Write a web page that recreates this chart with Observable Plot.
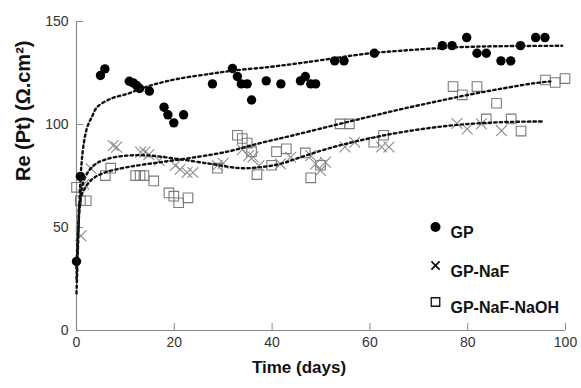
<!DOCTYPE html>
<html><head><meta charset="utf-8">
<script src="https://cdn.jsdelivr.net/npm/d3@7"></script>
<script src="https://cdn.jsdelivr.net/npm/@observablehq/plot@0.6"></script>
<style>
body{margin:0;background:#fff;}
#wrap{position:relative;width:581px;height:388px;}
</style></head><body><div id="wrap"></div>
<script>
// ---- data ----
const xTicks = [0, 20, 40, 60, 80, 100];
const yTicks = [0, 50, 100, 150];
const xLabel = "Time (days)";
const yLabel = "Re (Pt) (Ω.cm²)";
const seriesNames = ["GP", "GP-NaF", "GP-NaF-NaOH"];

const gpDays = [0, 0.8, 4.9, 5.8, 10.8, 11.6, 12.3, 12.9, 14.9, 17.9, 18.7, 19.9, 21.9, 27.8, 31.9, 32.9, 33.7, 34.9, 35.8, 38.8, 41.8, 45.8, 46.8, 47.9, 48.9, 52.8, 54.7, 60.9, 74.8, 76.8, 79.8, 81.9, 83.8, 86.8, 88.8, 90.8, 93.9, 95.8];
const gpValues = [33.5, 74.8, 123.8, 127.0, 121, 120.2, 118.9, 117.5, 116.2, 108.4, 104.7, 100.8, 104.7, 119.7, 127.2, 123.3, 119.7, 119.7, 111.9, 121.2, 119.7, 121.2, 123.3, 119.7, 119.7, 130.9, 130.9, 134.6, 138.3, 138.3, 142.2, 134.6, 134.6, 130.9, 130.9, 138.3, 142.2, 142.2];

const nafDays = [0.9, 1.5, 3.0, 7.5, 8.2, 13.1, 14.0, 14.8, 16.9, 20.2, 21.2, 22.6, 23.8, 28.8, 30.0, 33.9, 35.2, 36.1, 37.3, 41.7, 43.8, 47.9, 48.9, 49.9, 50.9, 54.9, 56.9, 62.4, 63.9, 77.8, 79.9, 82.8, 86.9];
const nafValues = [46, 71, 78.5, 89.8, 89, 86.6, 86.6, 85.4, 82.5, 80.1, 78.3, 76.7, 76.7, 80.1, 81.2, 87.8, 84.9, 84.3, 80, 80.9, 84.1, 84.9, 80.9, 77.7, 81.7, 89.1, 91.4, 89.1, 89.1, 100.5, 97.8, 100.3, 97];

const naohDays = [0, 0.8, 2.0, 5.9, 7.0, 12.1, 13.0, 13.8, 15.8, 18.9, 19.9, 20.9, 22.8, 28.8, 32.9, 33.9, 34.9, 35.8, 36.9, 39.9, 40.9, 42.9, 46.8, 47.9, 49.9, 53.9, 55.8, 60.8, 62.8, 77.0, 78.9, 81.9, 83.8, 85.9, 88.9, 90.9, 95.9, 97.9, 99.9];
const naohValues = [69.5, 63, 63, 75.2, 78.8, 75.2, 75.2, 75.2, 72.6, 66.8, 65.2, 62, 64.4, 78.8, 94.8, 93.2, 91, 86.8, 75.7, 80.2, 86.8, 88.2, 86.2, 74.1, 80.2, 100.3, 100.3, 91.4, 94.8, 118.4, 114.4, 118.4, 102.7, 110.3, 102.7, 96.8, 121.6, 120.4, 122.3];

// trend curves
const gpFitDays = [0, 0.3, 0.6, 1.0, 1.5, 2.2, 3.2, 4.2, 7, 10.4, 13.1, 15.8, 20.6, 27.4, 32.2, 39, 44.4, 49.9, 59.4, 66.3, 74.4, 83.3, 99.3];
const gpFitValues = [18, 40, 62, 80, 91, 98.7, 104, 108.4, 112.5, 114.9, 117.3, 119.4, 122.1, 124.6, 126.2, 127.8, 129.4, 131.2, 134.4, 135.8, 137.1, 137.9, 138.2];
const nafFitDays = [0, 0.5, 1.5, 3.5, 6.3, 10.4, 14.5, 20.6, 27.4, 33.5, 37.6, 41.7, 45.8, 52.6, 59.4, 66.3, 76.5, 86.7, 95.6];
const nafFitValues = [30, 55, 72.8, 80.1, 83.3, 84.9, 85, 83.3, 80.9, 78.8, 79.3, 80.9, 84.1, 89.1, 93, 96.2, 99.5, 101.1, 101.5];
const naohFitDays = [0, 0.4, 0.8, 2.9, 5.6, 10.4, 17.2, 24, 30.8, 37.6, 44.4, 52.6, 59.4, 66.3, 73.1, 79.9, 86.7, 93.5, 96.9];
const naohFitValues = [25, 50, 64, 72.8, 76.5, 79.3, 81.7, 84, 86.8, 91.0, 94.8, 99.6, 103.5, 107.4, 110.9, 114.3, 117.3, 120, 120.9];

// ---- build tables ----
const zip = (xs, ys) => xs.map((x, i) => ({x, y: ys[i]}));
const gp = zip(gpDays, gpValues);
const naf = zip(nafDays, nafValues);
const naoh = zip(naohDays, naohValues);
const gpFit = zip(gpFitDays, gpFitValues);
const nafFit = zip(nafFitDays, nafFitValues);
const naohFit = zip(naohFitDays, naohFitValues);

const font = "Liberation Sans, Arial, sans-serif";
const axisGray = "#8a8a8a";
const dotted = {x: "x", y: "y", stroke: "#111", strokeWidth: 2.4, strokeDasharray: "2.4,3.2", curve: "catmull-rom"};

const chart = Plot.plot({
  width: 581, height: 388,
  marginLeft: 76, marginRight: 16, marginTop: 21, marginBottom: 58,
  style: {fontFamily: font, fontSize: "14px", background: "#fff", color: "#333"},
  x: {domain: [0, 100]},
  y: {domain: [0, 150]},
  marks: [
    Plot.axisX({ticks: xTicks, tickSize: 0, tickPadding: 7, label: null, fontSize: 14, fill: "#333"}),
    Plot.axisY({ticks: yTicks, tickSize: 0, tickPadding: 8, label: null, fontSize: 14, fill: "#333"}),
    Plot.ruleX([0], {stroke: axisGray, strokeWidth: 1.2}),
    Plot.ruleY([0], {stroke: axisGray, strokeWidth: 1.2}),
    Plot.tickX(xTicks.slice(1), {x: d => d, insetTop: 302, stroke: axisGray}),
    Plot.tickY(yTicks.slice(1), {y: d => d, insetRight: 482, stroke: axisGray}),
    Plot.dot(naoh, {x: "x", y: "y", symbol: "square", r: 5.4, stroke: "#7a7a7a", strokeWidth: 1.1, fill: "none"}),
    Plot.dot(naf, {x: "x", y: "y", symbol: "times", r: 5, stroke: "#8c8c8c", strokeWidth: 1.1}),
    Plot.dot(gp, {x: "x", y: "y", r: 4.7, fill: "#000", stroke: "none"}),
    Plot.line(gpFit, dotted),
    Plot.line(nafFit, dotted),
    Plot.line(naohFit, dotted),
    // legend
    Plot.dot([seriesNames[0]], {frameAnchor: "top-left", dx: 359, dy: 205.5, r: 5, fill: "#000"}),
    Plot.dot([seriesNames[1]], {frameAnchor: "top-left", dx: 359, dy: 244, symbol: "times", r: 3.8, stroke: "#111", strokeWidth: 1.8}),
    Plot.dot([seriesNames[2]], {frameAnchor: "top-left", dx: 359, dy: 280.5, symbol: "square", r: 4.8, stroke: "#111", strokeWidth: 1.3, fill: "none"}),
    Plot.text([seriesNames[0]], {text: d => d, frameAnchor: "top-left", dx: 374, dy: 205.5, textAnchor: "start", fontWeight: "bold", fontSize: 16, fill: "#111"}),
    Plot.text([seriesNames[1]], {text: d => d, frameAnchor: "top-left", dx: 374, dy: 244, textAnchor: "start", fontWeight: "bold", fontSize: 16, fill: "#111"}),
    Plot.text([seriesNames[2]], {text: d => d, frameAnchor: "top-left", dx: 374, dy: 280.5, textAnchor: "start", fontWeight: "bold", fontSize: 16, fill: "#111"}),
    // axis titles
    Plot.text([xLabel], {text: d => d, frameAnchor: "bottom", dx: -22, dy: 42, fontWeight: "bold", fontSize: 17, fill: "#111"}),
    Plot.text([yLabel], {text: d => d, frameAnchor: "left", dx: -53, dy: 5, rotate: -90, fontWeight: "bold", fontSize: 20, fill: "#111"})
  ]
});
document.getElementById("wrap").appendChild(chart);
</script>
</body></html>
